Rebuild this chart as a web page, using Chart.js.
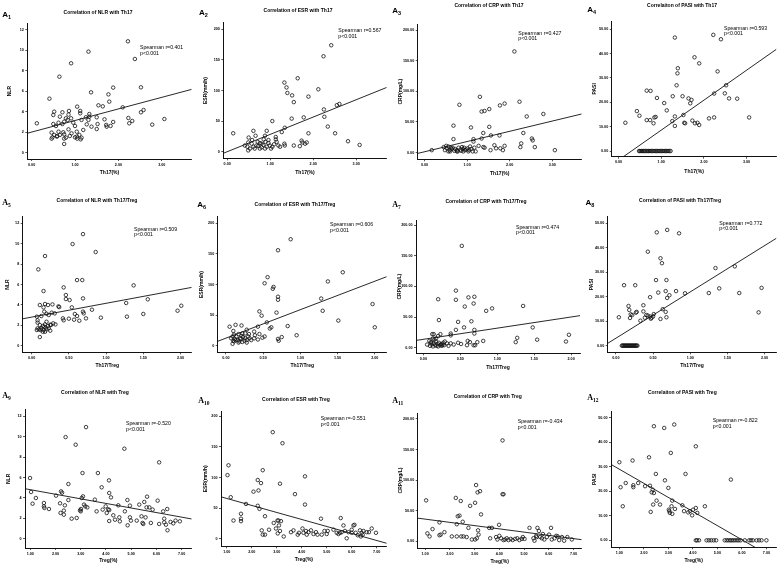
<!DOCTYPE html>
<html><head><meta charset="utf-8">
<script src="https://cdn.jsdelivr.net/npm/chart.js@4.4.1/dist/chart.umd.min.js"></script>
<style>
html,body{margin:0;padding:0;background:#fff;width:779px;height:567px;overflow:hidden;position:relative}
canvas{position:absolute}
.pl{position:absolute;font-family:'Liberation Sans',Arial,sans-serif;font-weight:bold;font-size:8px;line-height:8px;color:#000;white-space:nowrap}
.pl.serif{font-family:'Liberation Serif','Times New Roman',serif}
.pl sub{font-size:5.5px;line-height:0;vertical-align:-2px}
</style></head><body>
<script>
// ---------- tick values ----------
const XT_TH17 = [0, 1, 2, 3];
const XT_RATIO = [0, 0.5, 1, 1.5, 2];
const XT_TREG = [1, 2, 3, 4, 5, 6, 7];
const YT_NLR = [0, 2, 4, 6, 8, 10, 12];
const YT_ESR = [0, 50, 100, 150, 200];
const YT_CRP = [0, 50, 100, 150, 200];
const YT_PASI = [0, 10, 20, 30, 40, 50];

// ---------- series values: [x, y] ----------
const NLR_TH17 = [[0.12,2.87],[0.41,5.28],[0.64,7.43],[0.91,8.74],[1.31,9.88],[2.22,10.89],[2.38,9.16],[1.37,5.90],[1.88,6.36],[2.52,6.39],[1.77,5.70],[1.79,4.99],[1.54,4.63],[1.64,4.53],[1.05,4.50],[2.10,4.43],[2.58,4.17],[2.52,3.95],[0.52,4.01],[0.71,3.95],[0.86,4.08],[1.12,4.08],[1.12,3.85],[1.33,3.78],[0.50,3.68],[0.65,3.52],[0.85,3.72],[1.33,3.52],[1.25,3.46],[1.50,3.46],[1.15,3.20],[1.31,3.20],[1.68,3.26],[1.88,3.00],[2.23,3.39],[2.32,3.10],[2.25,2.87],[3.06,3.29],[2.78,2.74],[0.50,2.80],[0.62,2.93],[0.75,3.03],[0.83,3.20],[0.96,2.93],[0.79,3.36],[0.91,3.36],[0.71,2.80],[0.56,2.61],[1.00,2.61],[1.27,2.77],[1.52,2.80],[1.38,2.54],[1.72,2.71],[1.82,2.61],[1.73,2.54],[1.50,2.31],[0.85,2.28],[1.19,2.22],[0.46,1.96],[0.62,2.05],[0.73,1.99],[0.92,1.89],[1.04,2.05],[0.52,1.73],[0.59,1.63],[0.65,1.73],[0.75,1.79],[0.88,1.63],[1.04,1.57],[1.10,1.73],[0.48,1.50],[0.58,1.57],[0.79,1.47],[1.00,1.50],[1.15,1.47],[0.46,1.37],[0.75,1.37],[1.05,1.37],[1.13,1.30],[0.75,0.85]];
const ESR_TH17 = [[0.14,30],[2.42,174],[2.24,156],[1.33,113],[1.64,120],[1.38,105],[1.40,96],[1.51,92],[2.12,102],[1.55,81],[1.89,90],[2.25,69],[2.26,57],[2.55,76],[2.61,78],[1.50,54],[1.78,56],[1.05,50],[2.34,41],[1.89,30],[2.51,30],[2.81,17],[3.08,11],[0.61,34],[0.66,26],[0.92,34],[0.88,26],[0.50,23],[1.34,39],[1.27,32],[1.13,24],[1.13,20],[1.15,16],[1.33,13],[1.34,10],[1.55,10],[1.73,18],[1.75,15],[1.81,13],[1.85,15],[1.69,9],[0.49,15],[0.41,10],[0.47,8],[0.49,2],[0.57,13],[0.61,8],[0.64,5],[0.72,9],[0.76,14],[0.80,7],[0.84,11],[0.89,16],[0.92,8],[0.96,14],[0.99,10],[1.05,8],[1.09,12],[1.19,10],[0.68,10],[0.80,13],[0.88,5],[1.02,5],[1.23,8],[0.53,5],[0.76,5],[0.58,19],[0.71,16],[0.85,20],[0.96,19]];
const CRP_TH17 = [[0.17,4],[2.11,165],[1.30,91],[0.82,78],[1.34,67],[1.41,68],[1.52,71],[1.77,77],[1.88,80],[2.23,83],[2.40,59],[2.79,63],[0.68,44],[1.09,41],[1.52,42],[2.32,32],[1.38,32],[1.56,28],[1.76,28],[1.34,23],[1.15,22],[0.68,22],[1.15,18],[2.52,23],[2.54,20],[2.27,15],[2.59,9],[2.25,9],[3.06,4],[1.88,11],[1.64,12],[1.68,7],[1.78,7],[1.84,4],[1.55,4],[1.27,11],[1.38,9],[1.41,8],[1.17,8],[1.20,2],[1.13,2],[0.99,5],[1.03,2],[0.45,9],[0.51,11],[0.52,7],[0.56,10],[0.59,4],[0.60,2],[0.64,6],[0.66,8],[0.70,3],[0.72,6],[0.76,4],[0.78,2],[0.80,8],[0.84,5],[0.86,3],[0.88,9],[0.90,6],[0.91,2],[0.93,8],[0.95,4],[1.01,7],[1.05,4],[1.07,10],[1.10,6],[0.56,2],[0.76,2],[0.48,4],[0.62,8]];
const PASI_TH17 = [[0.16,11.6],[1.32,46.6],[2.22,47.7],[2.40,45.9],[1.78,38.5],[1.89,36.0],[1.39,34.0],[1.38,31.9],[2.32,32.7],[1.36,27.0],[2.52,27.0],[2.49,23.7],[2.24,23.6],[0.66,24.8],[0.75,24.7],[0.90,21.8],[1.27,22.5],[1.50,22.5],[1.64,21.6],[1.71,21.0],[1.68,19.6],[2.59,21.6],[2.78,21.5],[1.07,19.7],[0.43,16.4],[1.13,16.7],[0.49,14.5],[1.52,14.8],[1.32,14.2],[0.84,13.8],[0.87,14.0],[0.66,12.7],[0.74,12.7],[1.26,12.3],[1.73,12.5],[2.12,13.4],[2.24,13.8],[3.06,13.8],[0.82,11.4],[1.54,11.6],[1.56,11.4],[1.79,11.4],[1.85,11.6],[1.89,10.7],[1.32,10.3],
  [0.48,0],[0.50,0],[0.53,0],[0.55,0],[0.58,0],[0.60,0],[0.63,0],[0.66,0],[0.69,0],[0.71,0],[0.74,0],[0.77,0],[0.80,0],[0.83,0],[0.86,0],[0.89,0],[0.92,0],[0.95,0],[0.98,0],[1.01,0],[1.04,0],[1.07,0],[1.10,0],[1.13,0],[1.16,0],[1.19,0],[1.22,0]];
const NLR_RATIO = [[0.09,7.49],[0.18,8.80],[0.55,9.97],[0.69,10.95],[0.86,9.19],[0.61,6.44],[0.68,6.44],[1.37,5.92],[0.16,5.36],[0.43,5.72],[0.46,4.97],[0.69,4.64],[0.51,4.48],[0.46,4.58],[1.56,4.55],[1.27,4.19],[0.11,3.99],[0.18,4.09],[0.22,3.99],[0.28,4.05],[0.16,3.76],[0.36,3.86],[0.37,3.79],[0.54,3.76],[0.81,3.53],[2.01,3.92],[1.96,3.43],[0.07,2.85],[0.13,2.91],[0.17,3.34],[0.20,3.14],[0.27,3.24],[0.31,3.17],[0.23,3.01],[0.58,3.11],[0.61,2.91],[0.69,3.34],[0.70,3.17],[1.50,3.11],[1.28,2.85],[0.42,2.68],[0.43,2.49],[0.50,2.65],[0.57,2.55],[0.73,2.68],[0.93,2.75],[0.64,2.45],[0.08,2.49],[0.08,2.26],[0.11,2.03],[0.15,1.93],[0.18,2.09],[0.20,2.35],[0.25,2.06],[0.26,2.03],[0.17,1.86],[0.08,1.70],[0.10,1.60],[0.13,1.70],[0.07,1.54],[0.12,1.54],[0.15,1.37],[0.16,1.54],[0.19,1.77],[0.20,1.60],[0.23,1.70],[0.25,1.47],[0.11,0.85],[0.18,1.37],[0.22,1.93],[0.29,2.19],[0.32,2.09]];
const ESR_RATIO = [[0.87,174],[0.70,156],[1.57,120],[0.56,112],[0.52,102],[0.64,96],[0.63,93],[1.37,105],[0.70,80],[0.70,75],[1.28,77],[1.30,57],[1.97,68],[0.45,56],[0.68,54],[0.48,49],[1.51,41],[2.00,30],[0.55,38],[0.43,31],[0.59,28],[0.61,30],[0.83,32],[0.95,17],[0.05,31],[0.13,34],[0.21,33],[0.10,24],[0.28,26],[0.38,23],[0.45,19],[0.38,12],[0.43,10],[0.49,13],[0.52,15],[0.70,11],[0.71,8],[0.75,14],[0.34,9],[0.30,15],[0.26,12],[0.25,8],[0.21,16],[0.19,12],[0.17,19],[0.14,15],[0.12,11],[0.10,8],[0.09,15],[0.11,18],[0.16,9],[0.18,7],[0.20,11],[0.22,6],[0.23,14],[0.28,9],[0.32,12],[0.09,3],[0.13,9],[0.22,20],[0.26,20],[0.31,19],[0.07,12],[0.11,7],[0.17,5],[0.28,5],[0.39,17]];
const CRP_RATIO = [[0.52,166],[0.44,93],[0.20,79],[0.44,78],[0.61,82],[0.69,83],[0.68,72],[0.56,67],[1.35,68],[0.93,64],[0.85,60],[0.21,45],[0.47,42],[0.65,43],[0.55,33],[1.48,33],[0.44,29],[0.69,29],[0.69,23],[0.37,23],[0.37,20],[0.23,22],[0.12,22],[0.14,22],[1.97,21],[1.27,16],[1.54,13],[1.25,9],[1.93,10],[0.81,11],[0.60,11],[0.63,9],[0.73,9],[0.47,8],[0.51,6],[0.41,5],[0.70,4],[0.32,7],[0.29,10],[0.20,19],[0.08,11],[0.05,5],[0.10,9],[0.11,5],[0.13,2],[0.14,7],[0.16,4],[0.17,10],[0.18,3],[0.19,6],[0.21,8],[0.23,4],[0.24,6],[0.25,3],[0.26,5],[0.27,8],[0.15,13],[0.13,15],[0.09,3],[0.20,2],[0.11,8],[0.17,15],[0.28,4],[0.34,3],[0.37,7],[0.59,4],[0.68,4]];
const PASI_RATIO = [[0.55,46.3],[0.69,47.3],[0.85,45.9],[0.43,38.4],[0.60,35.7],[0.62,33.7],[1.34,31.7],[1.60,32.4],[0.11,24.7],[0.26,24.7],[0.54,26.8],[0.68,26.8],[0.67,22.3],[0.81,22.3],[0.57,21.7],[0.72,20.6],[0.69,19.5],[0.46,19.8],[0.93,21.4],[1.39,23.4],[1.25,21.5],[1.66,21.5],[1.96,23.6],[1.92,13.6],[0.17,16.2],[0.37,16.5],[0.18,14.6],[0.37,14.0],[0.28,13.8],[0.27,13.5],[0.20,12.8],[0.22,12.5],[0.19,11.3],[0.04,11.6],[0.41,12.5],[0.43,12.3],[0.46,11.9],[0.48,11.4],[0.50,11.9],[0.39,11.4],[0.51,12.9],[0.63,14.9],[0.67,13.8],[0.68,11.6],[0.60,10.9],[0.33,10.2],[0.47,11.0],
  [0.08,0],[0.09,0],[0.10,0],[0.11,0],[0.12,0],[0.13,0],[0.14,0],[0.15,0],[0.16,0],[0.17,0],[0.18,0],[0.19,0],[0.20,0],[0.21,0],[0.22,0],[0.23,0],[0.24,0],[0.25,0],[0.26,0],[0.27,0],[0.28,0],[0.29,0]];
const NLR_TREG = [[0.99,5.95],[1.03,4.58],[1.09,3.43],[1.22,3.99],[1.54,3.50],[1.54,3.17],[1.56,3.01],[1.74,2.91],[2.02,4.22],[2.18,3.47],[2.22,4.64],[2.26,4.51],[2.20,2.52],[2.33,2.75],[2.37,3.27],[2.33,2.35],[2.40,9.97],[2.51,5.36],[2.51,3.79],[2.80,9.22],[2.64,1.96],[2.84,2.03],[3.07,6.44],[3.21,10.95],[2.97,2.78],[3.01,2.91],[3.04,3.99],[3.09,4.15],[3.13,3.34],[3.18,3.17],[3.26,3.07],[3.00,2.68],[3.56,3.83],[3.68,6.44],[3.63,2.68],[3.83,5.04],[3.87,2.85],[3.99,3.17],[4.03,2.52],[4.09,2.88],[4.13,2.81],[4.12,5.72],[4.13,4.48],[4.20,4.05],[4.13,1.73],[4.29,2.29],[4.36,1.86],[4.49,3.27],[4.53,2.09],[4.55,1.70],[4.73,8.83],[4.75,2.68],[4.85,3.79],[4.86,1.31],[4.95,3.24],[4.95,2.09],[4.99,1.77],[5.22,1.77],[5.32,3.34],[5.41,2.19],[5.45,1.54],[5.48,1.44],[5.52,3.60],[5.57,2.09],[5.61,3.07],[5.63,4.12],[5.72,3.07],[5.78,1.54],[5.85,2.85],[6.05,3.73],[6.11,7.49],[6.11,1.44],[6.27,2.68],[6.31,1.96],[6.31,1.60],[6.38,1.37],[6.43,2.91],[6.44,0.82],[6.56,1.64],[6.67,1.50],[6.76,1.77],[6.93,1.70]];
const ESR_TREG = [[1.03,104],[1.07,120],[1.16,68],[1.27,30],[1.57,29],[1.57,33],[1.57,41],[1.77,57],[2.07,77],[2.24,96],[2.27,79],[2.24,54],[2.31,49],[2.37,91],[2.44,112],[2.40,14],[2.44,7],[2.53,7],[2.53,37],[2.69,15],[2.84,174],[2.88,26],[2.97,17],[3.03,30],[3.07,30],[3.04,9],[3.09,22],[3.13,13],[3.13,90],[3.17,29],[3.23,156],[3.28,4],[3.57,11],[3.67,14],[3.73,73],[3.84,7],[3.89,10],[4.03,17],[4.07,10],[4.13,56],[4.13,102],[4.17,13],[4.20,7],[4.27,11],[4.37,14],[4.47,8],[4.57,11],[4.63,7],[4.77,33],[4.80,7],[4.91,13],[5.00,8],[5.04,13],[5.27,15],[5.40,10],[5.47,8],[5.56,34],[5.60,11],[5.67,22],[5.73,13],[5.80,1],[5.87,11],[6.00,15],[6.07,22],[6.11,23],[6.16,10],[6.24,6],[6.33,14],[6.37,4],[6.40,10],[6.44,7],[6.47,13],[6.60,11],[6.69,11],[6.80,17],[6.97,10],[5.53,10],[6.00,10]];
const CRP_TREG = [[1.04,67],[1.09,13],[1.18,8],[1.30,20],[1.58,31],[1.58,10],[1.63,11],[1.78,15],[2.08,8],[2.24,71],[2.28,28],[2.32,41],[2.39,42],[2.44,66],[2.28,8],[2.46,8],[2.52,32],[2.55,8],[2.68,7],[2.82,58],[2.89,3],[3.02,63],[3.06,92],[3.12,80],[3.22,82],[3.14,18],[3.16,11],[3.09,5],[3.02,3],[3.26,44],[3.59,22],[3.70,22],[3.63,5],[3.87,7],[3.92,3],[3.99,27],[4.00,9],[4.13,165],[4.13,77],[4.17,77],[4.07,5],[4.17,2],[4.23,3],[4.30,5],[4.37,2],[4.46,4],[4.54,2],[4.64,4],[4.73,5],[4.81,2],[4.91,4],[4.95,7],[5.02,4],[5.22,22],[5.38,5],[5.42,1],[5.49,9],[5.54,22],[5.60,17],[5.65,7],[5.72,5],[5.76,12],[5.82,3],[5.92,7],[6.01,11],[6.09,22],[6.12,3],[6.23,5],[6.30,9],[6.36,8],[6.42,2],[6.53,7],[6.62,1],[6.75,7],[6.93,3],[5.51,7],[2.75,22]];
const PASI_TREG = [[1.00,31.9],[1.05,21.7],[1.14,13.9],[1.26,23.4],[1.54,32.6],[1.57,22.5],[1.57,21.7],[1.77,23.4],[2.05,22.1],[2.21,33.9],[2.25,22.3],[2.28,11.6],[2.32,19.6],[2.36,20.7],[2.38,14.6],[2.41,46.6],[2.41,19.3],[2.49,27.1],[2.52,16.2],[2.66,14.6],[2.83,45.9],[2.86,24.5],[3.00,21.4],[3.02,12.5],[3.04,11.9],[3.06,11.2],[3.10,35.7],[3.13,13.9],[3.16,16.2],[3.16,10.8],[3.24,47.3],[3.27,12.8],[3.57,14.3],[3.64,11.9],[3.70,27.1],[3.81,11.4],[3.88,11.9],[3.97,10.2],[4.01,12.5],[4.12,38.4],[4.12,13.2],[4.18,11.2],[4.49,13.9],[5.55,24.8],
  [4.12,0],[4.17,0],[4.25,0],[4.56,0],[4.65,0],[4.75,0],[4.85,0],[4.95,0],[5.30,0],[5.38,0],[5.45,0],[5.52,0],[5.58,0],[5.65,0],[5.72,0],[5.80,0],[5.87,0],[5.95,0],[6.12,0],[6.30,0],[6.37,0],[6.45,0],[6.60,0],[6.70,0],[6.80,0],[7.00,0]];

// ---------- fitted lines: [[x0,y0],[x1,y1]] ----------
const FIT_NLR_TH17 = [[-0.10,1.90],[3.69,6.19]];
const FIT_ESR_TH17 = [[-0.09,-2.7],[3.71,105]];
const FIT_CRP_TH17 = [[-0.16,-1.3],[3.69,63]];
const FIT_PASI_TH17 = [[-0.16,-5.7],[3.70,41.8]];
const FIT_NLR_RATIO = [[-0.12,2.64],[2.15,5.72]];
const FIT_ESR_RATIO = [[-0.11,7.1],[2.16,112.8]];
const FIT_CRP_RATIO = [[-0.10,11.8],[2.12,52.2]];
const FIT_PASI_RATIO = [[-0.11,0.94],[2.16,43.9]];
const FIT_NLR_TREG = [[0.79,4.90],[7.40,1.93]];
const FIT_ESR_TREG = [[0.77,68.6],[7.40,-7.1]];
const FIT_CRP_TREG = [[0.70,37.9],[7.33,2.7]];
const FIT_PASI_TREG = [[0.66,31.0],[7.41,-7.9]];

// ---------- text ----------
const PANEL_NAMES = ['1','2','3','4','5','6','7','8','9','10','11','12'];
const TITLES = ['Correlation of NLR with Th17','Correlation of ESR with Th17','Correlation of CRP with Th17','Correlaiton of PASI with Th17',
  'Correlation of NLR with Th17/Treg','Correlation of ESR with Th17/Treg','Correlation of CRP with Th17/Treg','Correlation of PASI with Th17/Treg',
  'Correlation of NLR with Treg','Correlation of ESR with Treg','Correlation of CRP with Treg','Correlaiton of PASI with Treg'];
const SPEARMAN_R = ['0.401','0.567','0.427','0.593','0.509','0.606','0.474','0.772','-0.520','-0.551','-0.434','-0.822'];
const P_TEXT = 'p<0.001';
const X_LABELS = ['Th17(%)','Th17/Treg','Treg(%)'];
const Y_LABELS = ['NLR','ESR(mm/h)','CRP(mg/L)','PASI'];

// ---------- panel content assembly ----------
const SERIES = [NLR_TH17,ESR_TH17,CRP_TH17,PASI_TH17,NLR_RATIO,ESR_RATIO,CRP_RATIO,PASI_RATIO,NLR_TREG,ESR_TREG,CRP_TREG,PASI_TREG];
const FITS = [FIT_NLR_TH17,FIT_ESR_TH17,FIT_CRP_TH17,FIT_PASI_TH17,FIT_NLR_RATIO,FIT_ESR_RATIO,FIT_CRP_RATIO,FIT_PASI_RATIO,FIT_NLR_TREG,FIT_ESR_TREG,FIT_CRP_TREG,FIT_PASI_TREG];
const X_TICKS = [XT_TH17, XT_RATIO, XT_TREG];
const Y_TICKS = [YT_NLR, YT_ESR, YT_CRP, YT_PASI];
const Y_DEC = [0, 0, 2, 2];

// ---------- layout (page pixels) ----------
const COL_X = [0,195,390,585], COL_W = [195,195,195,194];
const ROW_Y = [0,190,378], ROW_H = [190,188,189];
const LAYOUT = [
 {box:[27.3,23.3,191.7,159.0], xr:[-0.10,3.69], yr:[-0.62,12.65], yT:10,    xT:173,   tt:[98,13],     sp:[140,47.7],   lab:[5,15],      serif:false},
 {box:[223.3,22.7,386.7,158.3],xr:[-0.09,3.71], yr:[-10.9,210.9], yT:206,   xT:172.3, tt:[298,11],    sp:[338.3,30.7], lab:[201.7,13.3],serif:false},
 {box:[417.7,24.0,581.7,159.3],xr:[-0.16,3.69], yr:[-10.9,209.8], yT:401,   xT:173.3, tt:[489,6],     sp:[518.3,33.3], lab:[395,11],    serif:false},
 {box:[611.7,21.0,776.7,156.7],xr:[-0.16,3.70], yr:[-2.33,53.4],  yT:594.3, xT:171.3, tt:[682,6],     sp:[724,28.3],   lab:[590,10],    serif:false},
 {box:[22.7,216.7,191.7,352.3],xr:[-0.12,2.15], yr:[-0.65,12.66], yT:7.3,   xT:365.7, tt:[97,200.7],  sp:[134,229.3],  lab:[5,202.7],   serif:true},
 {box:[217.7,216.7,386.7,352.3],xr:[-0.11,2.16],yr:[-10.9,210.9], yT:201.7, xT:365.7, tt:[295,205],   sp:[330,225],    lab:[200,205],   serif:false},
 {box:[416.0,220.0,580.0,353.3],xr:[-0.10,2.12],yr:[-9.2,208.2],  yT:400,   xT:367.7, tt:[486,201.7], sp:[516,227.3],  lab:[395,205],   serif:true},
 {box:[607.7,216.7,776.7,352.3],xr:[-0.11,2.16],yr:[-2.72,52.7],  yT:591.7, xT:365.7, tt:[680,200.7], sp:[719.3,223.3],lab:[588.3,202.7],serif:false},
 {box:[25.0,409.7,191.7,548.0], xr:[0.79,7.40], yr:[-0.92,12.66], yT:8.3,   xT:560.7, tt:[95,393],    sp:[126,423.7],  lab:[5,396.3],   serif:true},
 {box:[221.0,411.3,386.7,546.3],xr:[0.77,7.40], yr:[-12,208],     yT:206,   xT:559.7, tt:[296,399.7], sp:[320.7,418.7],lab:[201,401.3], serif:true},
 {box:[417.7,413.0,581.7,548.0],xr:[0.70,7.33], yr:[-10.9,209.8], yT:401,   xT:561.3, tt:[487.7,396.3],sp:[517.7,422], lab:[395,401.3], serif:true},
 {box:[611.0,411.3,776.7,547.3],xr:[0.66,7.41], yr:[-2.86,52.7],  yT:594.3, xT:560.7, tt:[682.3,393], sp:[712.7,420.7],lab:[590,398],   serif:true}
];

const FONT = "'Liberation Sans', Arial, sans-serif";
const INK = '#111';
const AX_FS = 5, AX_LH = 6;

function fmt(v, d){ return d === 0 ? String(Math.round(v)) : v.toFixed(d); }

for (let i = 0; i < 12; i++) {
  const row = Math.floor(i / 4), col = i % 4;
  const ox = COL_X[col], oy = ROW_Y[row], w = COL_W[col], h = ROW_H[row];
  const L = LAYOUT[i];
  const relLeft = L.box[0] - ox, relTop = L.box[1] - oy;
  const relRight = ox + w - L.box[2], relBottom = oy + h - L.box[3];
  const xt = X_TICKS[row], yt = Y_TICKS[col], yd = Y_DEC[col];

  const cv = document.createElement('canvas');
  cv.width = w; cv.height = h;
  cv.style.left = ox + 'px'; cv.style.top = oy + 'px';
  cv.style.width = w + 'px'; cv.style.height = h + 'px';
  document.body.appendChild(cv);

  const lbl = document.createElement('div');
  lbl.className = 'pl' + (L.serif ? ' serif' : '');
  lbl.style.left = (L.lab[0] - 2.8) + 'px';
  lbl.style.top = (L.lab[1] - 4) + 'px';
  lbl.innerHTML = 'A<sub>' + PANEL_NAMES[i] + '</sub>';
  document.body.appendChild(lbl);

  const annot = {
    id: 'annot' + i,
    afterDraw(chart) {
      const c = chart.ctx;
      c.save();
      c.fillStyle = '#000';
      c.textBaseline = 'middle';
      c.textAlign = 'center';
      c.font = 'bold 5px ' + FONT;
      c.fillText(TITLES[i], L.tt[0] - ox, L.tt[1] - oy);
      c.textAlign = 'left';
      c.font = '5.2px ' + FONT;
      c.fillText('Spearman r=' + SPEARMAN_R[i], L.sp[0] - ox, L.sp[1] - oy);
      c.fillText(P_TEXT, L.sp[0] - ox, L.sp[1] - oy + 5.5);
      c.restore();
    }
  };

  const gridOpt = {display: true, drawOnChartArea: false, drawTicks: true, tickLength: 2, color: INK, lineWidth: 0.7};
  const borderOpt = {display: true, color: INK, width: 1};
  const tickFont = {family: FONT, size: 3.7, weight: 'bold'};

  new Chart(cv, {
    type: 'scatter',
    data: {
      datasets: [
        {data: SERIES[i].map(p => ({x: p[0], y: p[1]})), pointStyle: 'circle', pointRadius: 1.75, pointHoverRadius: 1.75,
         borderWidth: 0.8, borderColor: '#111', backgroundColor: 'rgba(0,0,0,0)'},
        {data: FITS[i].map(p => ({x: p[0], y: p[1]})), showLine: true, pointRadius: 0, borderColor: '#111', borderWidth: 0.9, fill: false}
      ]
    },
    options: {
      responsive: false, animation: false, devicePixelRatio: 1, events: [],
      layout: {padding: {left: 0, top: relTop, right: relRight, bottom: 0}},
      plugins: {legend: {display: false}, tooltip: {enabled: false}, title: {display: false}},
      scales: {
        x: {
          type: 'linear', position: 'bottom', min: L.xr[0], max: L.xr[1],
          afterBuildTicks: a => { a.ticks = xt.map(v => ({value: v})); },
          afterFit: a => { a.height = relBottom; a.paddingLeft = 0; a.paddingRight = 0; },
          ticks: {autoSkip: false, maxRotation: 0, padding: 1.5, color: '#000', font: tickFont, callback: v => fmt(v, 2)},
          title: {display: true, text: X_LABELS[row], color: '#000', font: {family: FONT, size: AX_FS, weight: 'bold', lineHeight: 1.2},
                  padding: {top: 0, bottom: h - (L.xT - oy) - AX_LH / 2}},
          grid: gridOpt, border: borderOpt
        },
        y: {
          type: 'linear', position: 'left', min: L.yr[0], max: L.yr[1],
          afterBuildTicks: a => { a.ticks = yt.map(v => ({value: v})); },
          afterFit: a => { a.width = relLeft; a.paddingTop = 0; a.paddingBottom = 0; },
          ticks: {autoSkip: false, padding: 1.5, color: '#000', font: tickFont, callback: v => fmt(v, yd)},
          title: {display: true, text: Y_LABELS[col], color: '#000', font: {family: FONT, size: AX_FS, weight: 'bold', lineHeight: 1.2},
                  padding: {top: (L.yT - ox) - AX_LH / 2, bottom: 0}},
          grid: gridOpt, border: borderOpt
        }
      }
    },
    plugins: [annot]
  });
}
</script>
</body></html>
